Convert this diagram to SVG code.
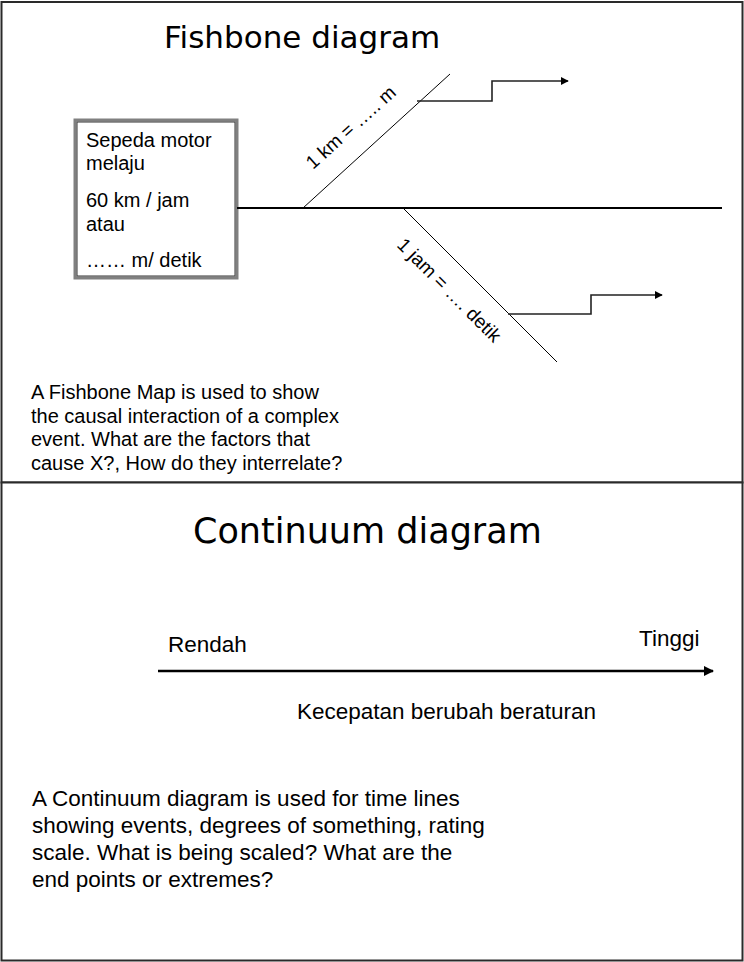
<svg xmlns="http://www.w3.org/2000/svg" width="744" height="962" viewBox="0 0 744 962">
  <style>
    .frame { fill: #ffffff; stroke: #2a2a2a; stroke-width: 2; }
    .title { font-family: "DejaVu Sans", sans-serif; fill: #000; }
    .txt { font-family: "Liberation Sans", Arial, sans-serif; fill: #000; }
    .bone { stroke: #000; stroke-width: 1; fill: none; }
    .spine { stroke: #000; stroke-width: 2.2; fill: none; }
    .branch { stroke: #222; stroke-width: 1.6; fill: none; }
  </style>
  <defs>
    <marker id="head" viewBox="0 0 10 10" refX="9" refY="5" markerWidth="5" markerHeight="5" orient="auto" markerUnits="strokeWidth">
      <path d="M0,0 L10,5 L0,10 z" fill="#000"/>
    </marker>
    <marker id="headBig" viewBox="0 0 10 10" refX="9" refY="5" markerWidth="4" markerHeight="4" orient="auto" markerUnits="strokeWidth">
      <path d="M0,0 L10,5 L0,10 z" fill="#000"/>
    </marker>
  </defs>

  <!-- upper panel: fishbone -->
  <rect class="frame" x="1.5" y="2" width="741" height="480.5"/>
  <text class="title" x="164" y="48" font-size="31">Fishbone diagram</text>

  <g id="effect-box">
    <rect x="75" y="120" width="162" height="158" fill="#fff" stroke="#808080" stroke-width="3"/>
    <rect x="77" y="122" width="158" height="154" fill="none" stroke="#333" stroke-width="1"/>
    <text class="txt" font-size="20">
      <tspan x="86" y="147">Sepeda motor</tspan>
      <tspan x="86" y="170">melaju</tspan>
      <tspan x="86" y="207">60 km / jam</tspan>
      <tspan x="86" y="231">atau</tspan>
      <tspan x="86" y="267">…… m/ detik</tspan>
    </text>
  </g>

  <g id="connectors">
    <line class="spine" x1="237" y1="208" x2="722" y2="208"/>
    <line class="bone" x1="303" y1="208" x2="450" y2="74"/>
    <line class="bone" x1="403" y1="208" x2="557" y2="362"/>
    <polyline class="branch" points="417,101 492,101 492,81 568,81" marker-end="url(#head)"/>
    <polyline class="branch" points="508,314 591,314 591,295 662,295" marker-end="url(#head)"/>
  </g>

  <g id="cause-km">
    <text class="txt" font-size="19" transform="translate(313,170) rotate(-42)">1 km = ….. m</text>
  </g>
  <g id="cause-jam">
    <text class="txt" font-size="19" transform="translate(396,246) rotate(45)">1 jam = …. detik</text>
  </g>

  <text class="txt" font-size="20">
    <tspan x="31" y="399">A Fishbone Map is used to show</tspan>
    <tspan x="31" y="422.5">the causal interaction of a complex</tspan>
    <tspan x="31" y="446">event. What are the factors that</tspan>
    <tspan x="31" y="469.5">cause X?, How do they interrelate?</tspan>
  </text>

  <!-- lower panel: continuum -->
  <rect class="frame" x="1.5" y="482.5" width="741" height="478"/>
  <text class="title" x="193" y="543" font-size="35">Continuum diagram</text>

  <g id="scale">
    <line x1="158" y1="671" x2="713" y2="671" stroke="#000" stroke-width="2.6" marker-end="url(#headBig)"/>
    <text class="txt" x="168" y="652" font-size="22.5">Rendah</text>
    <text class="txt" x="639" y="646" font-size="22.5">Tinggi</text>
    <text class="txt" x="297" y="719" font-size="22.5">Kecepatan berubah beraturan</text>
  </g>

  <text class="txt" font-size="22.5">
    <tspan x="32" y="806">A Continuum diagram is used for time lines</tspan>
    <tspan x="32" y="833">showing events, degrees of something, rating</tspan>
    <tspan x="32" y="860">scale. What is being scaled? What are the</tspan>
    <tspan x="32" y="887">end points or extremes?</tspan>
  </text>
</svg>
